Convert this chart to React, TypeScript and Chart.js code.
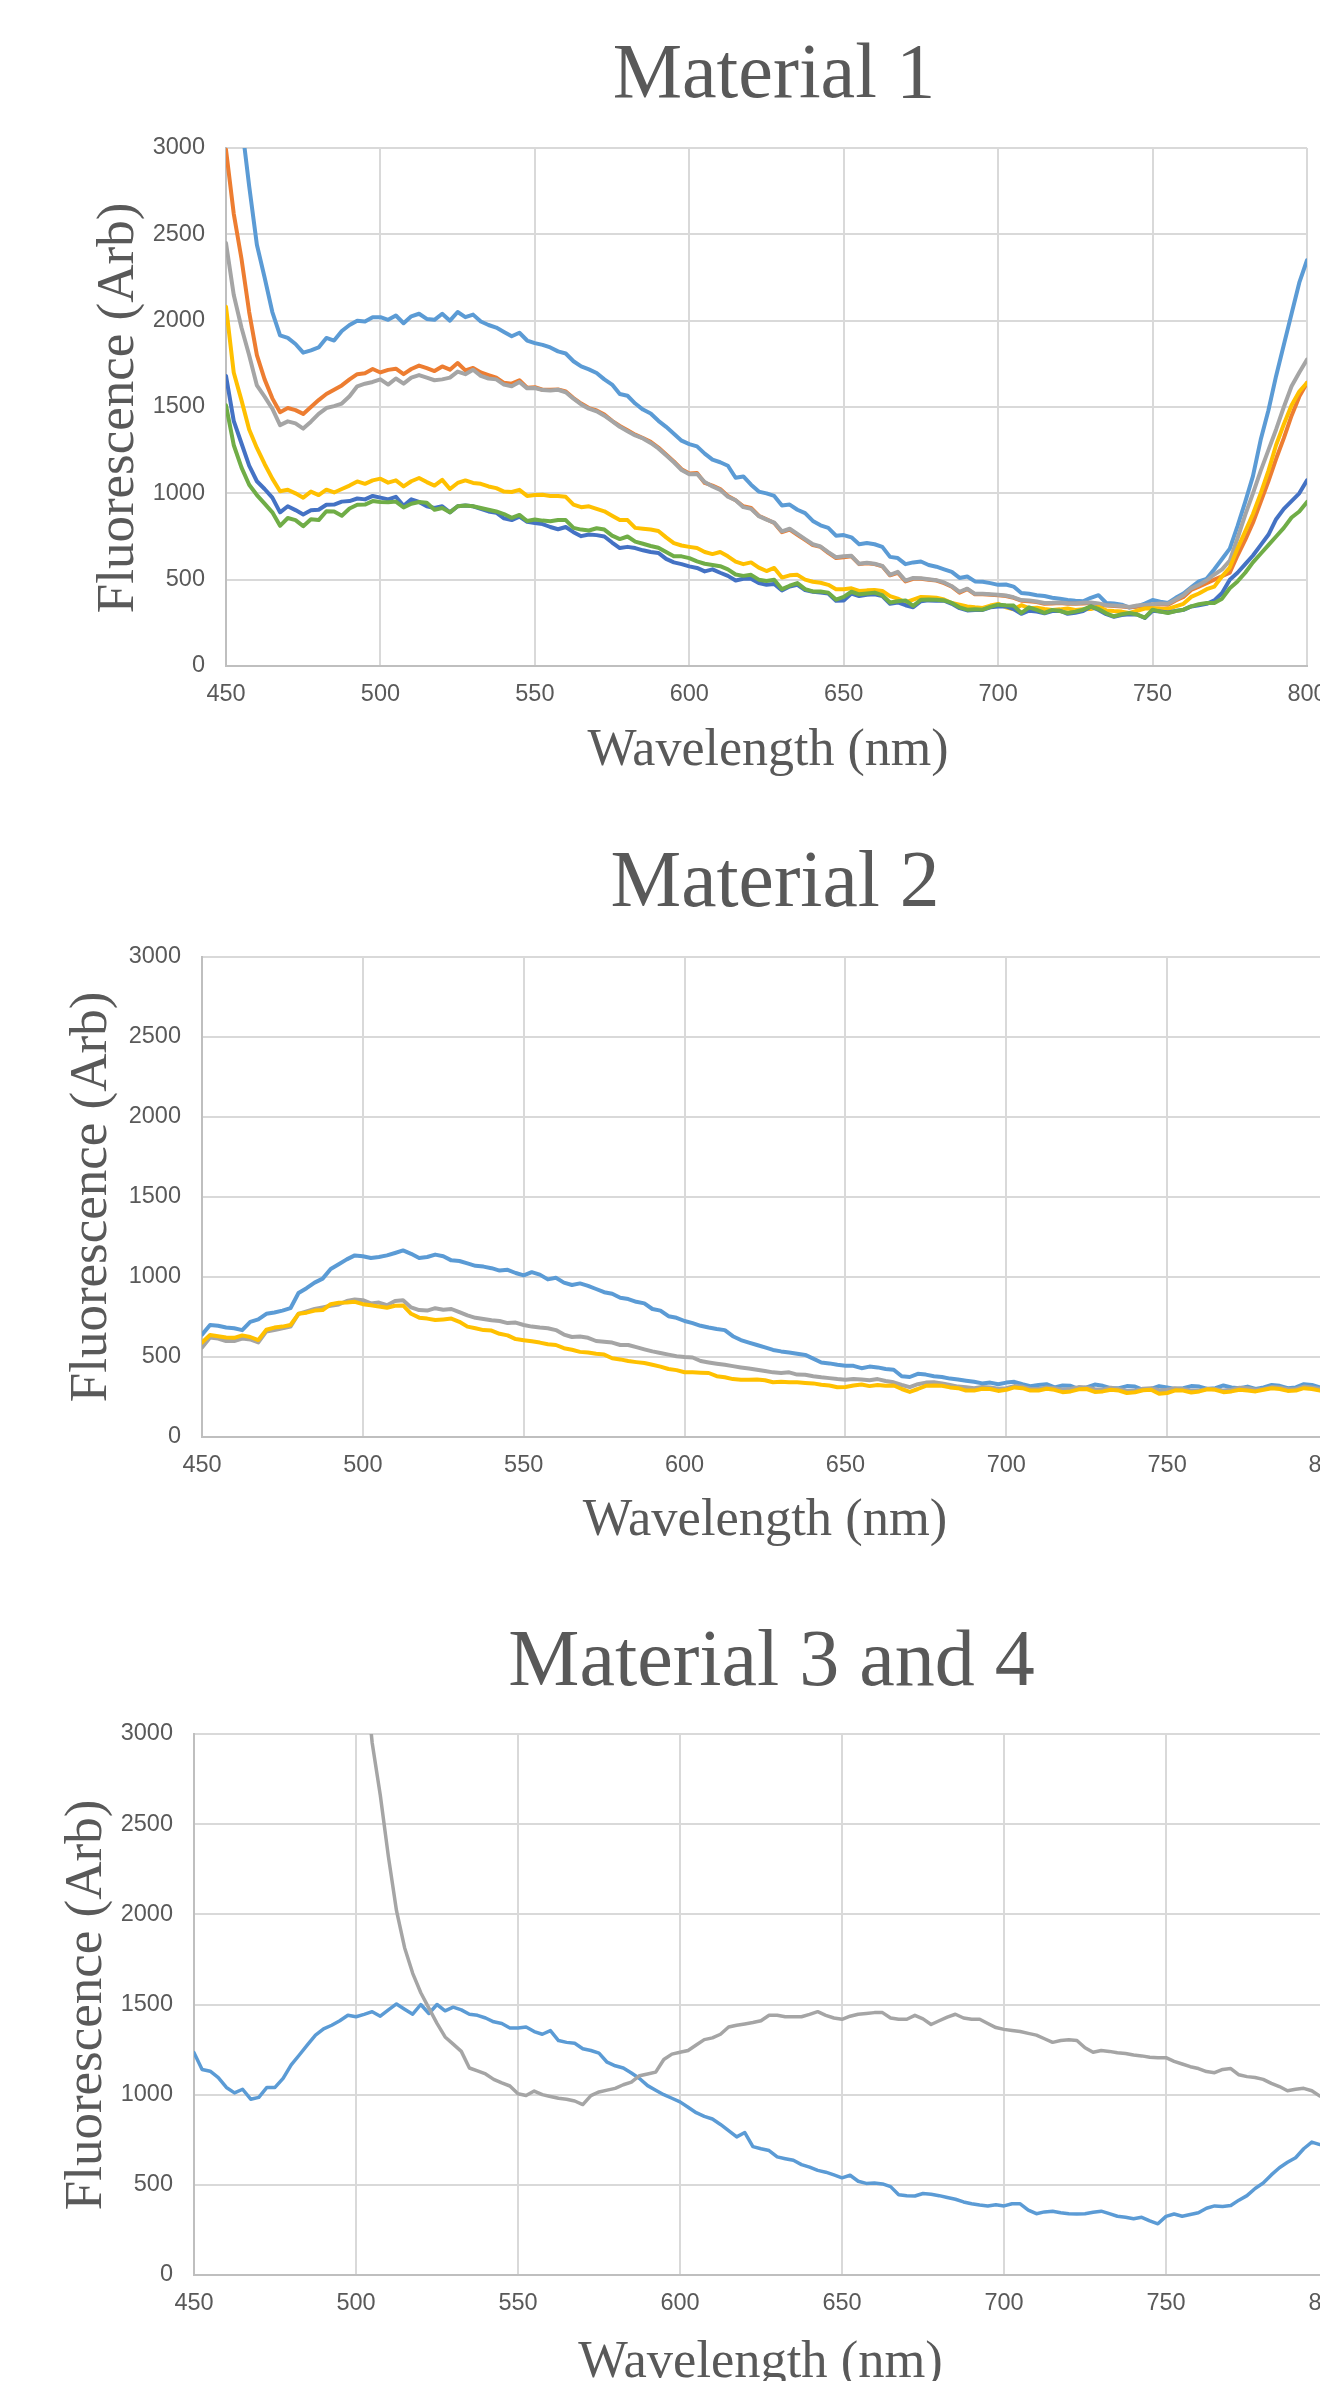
import React, { useEffect, useRef } from 'react';
import { Chart, registerables } from 'chart.js';

Chart.register(...registerables);

// ---------- DATA (wavelength step 2.5 nm) ----------
const WAVELENGTHS = [
  450, 452.5, 455, 457.5, 460, 462.5, 465, 467.5, 470, 472.5,
  475, 477.5, 480, 482.5, 485, 487.5, 490, 492.5, 495, 497.5,
  500, 502.5, 505, 507.5, 510, 512.5, 515, 517.5, 520, 522.5,
  525, 527.5, 530, 532.5, 535, 537.5, 540, 542.5, 545, 547.5,
  550, 552.5, 555, 557.5, 560, 562.5, 565, 567.5, 570, 572.5,
  575, 577.5, 580, 582.5, 585, 587.5, 590, 592.5, 595, 597.5,
  600, 602.5, 605, 607.5, 610, 612.5, 615, 617.5, 620, 622.5,
  625, 627.5, 630, 632.5, 635, 637.5, 640, 642.5, 645, 647.5,
  650, 652.5, 655, 657.5, 660, 662.5, 665, 667.5, 670, 672.5,
  675, 677.5, 680, 682.5, 685, 687.5, 690, 692.5, 695, 697.5,
  700, 702.5, 705, 707.5, 710, 712.5, 715, 717.5, 720, 722.5,
  725, 727.5, 730, 732.5, 735, 737.5, 740, 742.5, 745, 747.5,
  750, 752.5, 755, 757.5, 760, 762.5, 765, 767.5, 770, 772.5,
  775, 777.5, 780, 782.5, 785, 787.5, 790, 792.5, 795, 797.5,
  800,
];

// Material 1
const M1_BLUE = [
  3900, 3500, 3150, 2780, 2440, 2250, 2050, 1915, 1900, 1865,
  1815, 1828, 1845, 1900, 1885, 1940, 1975, 2000, 1995, 2020,
  2020, 2005, 2030, 1985, 2025, 2040, 2010, 2005, 2040, 2000,
  2050, 2020, 2035, 1995, 1975, 1960, 1935, 1910, 1930, 1885,
  1870, 1860, 1845, 1822, 1810, 1765, 1735, 1718, 1697, 1660,
  1630, 1575, 1565, 1520, 1485, 1462, 1420, 1385, 1345, 1305,
  1285, 1272, 1230, 1195, 1180, 1160, 1090, 1098, 1050, 1010,
  1000, 985, 930, 935, 905, 885, 840, 815, 800, 755,
  758, 745, 705, 712, 705, 690, 632, 625, 590, 600,
  605, 585, 575, 560, 545, 510, 518, 490, 488, 480,
  470, 472, 460, 423, 418, 410, 405, 395, 390, 382,
  378, 375, 395, 410, 365, 362, 355, 338, 345, 362,
  382, 372, 365, 395, 420, 455, 490, 505, 560, 620,
  680, 810, 950, 1100, 1310, 1480, 1680, 1860, 2040, 2220,
  2350,
];
const M1_ORANGE = [
  2990, 2620, 2360, 2050, 1800, 1660, 1550, 1470, 1494, 1482,
  1460, 1500, 1540, 1575, 1600, 1625, 1660, 1690, 1695, 1720,
  1700, 1715, 1722, 1690, 1720, 1740, 1725, 1708, 1735, 1716,
  1755, 1712, 1726, 1700, 1685, 1670, 1640, 1635, 1655, 1612,
  1615, 1600, 1600, 1602, 1590, 1552, 1520, 1494, 1480, 1456,
  1420, 1390, 1365, 1340, 1320, 1298, 1265, 1225, 1185, 1140,
  1115, 1118, 1060, 1045, 1025, 985, 960, 925, 915, 870,
  850, 828, 775, 790, 760, 730, 700, 690, 655, 625,
  630, 635, 590, 595, 590, 578, 525, 540, 490, 505,
  505, 500, 495, 480, 460, 425, 445, 415, 415, 412,
  410, 405, 395, 378, 375, 370, 360, 362, 365, 360,
  360, 362, 365, 358, 350, 348, 345, 340, 345, 350,
  355, 358, 355, 380, 400, 440, 460, 480, 500, 520,
  540, 640, 730, 830, 950, 1070, 1200, 1320, 1450, 1560,
  1640,
];
const M1_GRAY = [
  2450, 2150, 1960, 1800, 1625, 1560, 1490, 1395, 1417, 1405,
  1375, 1415, 1460, 1494, 1505, 1520, 1562, 1620, 1635, 1645,
  1660, 1630, 1665, 1635, 1670, 1685, 1670, 1655, 1660, 1670,
  1705, 1690, 1716, 1680, 1665, 1660, 1630, 1620, 1645, 1608,
  1610, 1598, 1595, 1600, 1585, 1548, 1515, 1490, 1475, 1450,
  1418, 1385, 1360, 1335, 1318, 1292, 1260, 1220, 1180, 1135,
  1110, 1112, 1065, 1040, 1020, 980, 960, 920, 910, 868,
  848, 830, 780, 795, 765, 735, 705, 692, 660, 630,
  635, 638, 592, 598, 592, 580, 528, 545, 495, 510,
  508, 503, 497, 484, 462, 430, 448, 418, 418, 415,
  412, 408, 398, 382, 380, 374, 365, 366, 368, 364,
  362, 366, 368, 362, 352, 350, 348, 342, 350, 354,
  358, 362, 360, 385, 410, 450, 470, 495, 530, 560,
  610, 740, 875, 1000, 1130, 1250, 1370, 1500, 1620, 1700,
  1775,
];
const M1_YELLOW = [
  2080, 1700, 1540, 1370, 1263, 1170, 1085, 1012, 1021, 1000,
  975, 1010, 990, 1021, 1005, 1025, 1045, 1069, 1055, 1075,
  1085, 1062, 1075, 1040, 1070, 1089, 1065, 1045, 1078, 1025,
  1060, 1075, 1060, 1055, 1040, 1030, 1010, 1008, 1020, 985,
  990, 992, 985, 985, 980, 935, 920, 925, 910, 896,
  870, 845, 845, 800, 795, 790, 782, 745, 712, 698,
  690, 683, 660, 648, 660, 635, 605, 590, 600, 570,
  550, 568, 512, 525, 528, 500, 488, 482, 470, 445,
  445, 450, 435, 438, 440, 435, 405, 390, 368, 385,
  400, 398, 395, 385, 365, 355, 345, 340, 336, 350,
  360, 340, 328, 352, 335, 338, 330, 325, 328, 333,
  325, 328, 330, 342, 322, 318, 315, 307, 320, 333,
  335, 332, 330, 345, 360, 400, 420, 445, 460, 520,
  570, 680, 780, 880, 1000, 1130, 1280, 1400, 1510, 1590,
  1640,
];
const M1_DARKBLUE = [
  1680, 1420, 1290, 1160, 1070, 1025, 975, 890, 925, 903,
  878, 902, 905, 934, 935, 952, 955, 970, 965, 985,
  975, 965, 980, 928, 965, 950, 925, 915, 925, 890,
  925, 930, 925, 910, 895, 888, 855, 845, 865, 835,
  828, 822, 805, 792, 805, 775, 752, 762, 758, 750,
  715, 683, 690, 683, 670, 660, 655, 620, 600, 590,
  577, 568, 548, 560, 540, 522, 495, 505, 505, 480,
  471, 475, 438, 460, 470, 440, 430, 425, 420, 378,
  380, 420, 405, 412, 415, 405, 360, 368, 352, 340,
  375, 380, 378, 378, 360, 335, 322, 325, 325, 340,
  345, 345, 330, 302, 320, 315, 305, 318, 320, 302,
  308, 318, 345, 325, 300, 285, 295, 300, 298, 278,
  320, 315, 310, 318, 325, 345, 352, 360, 380, 423,
  500, 540, 590, 640, 700, 760, 850, 910, 955, 1000,
  1075,
];
const M1_GREEN = [
  1510, 1280, 1150, 1050, 990, 940, 890, 812, 857, 845,
  810, 850, 845, 896, 895, 870, 912, 934, 935, 955,
  950, 948, 952, 918, 940, 950, 945, 905, 915, 890,
  925, 930, 925, 915, 905, 895, 880, 858, 875, 840,
  848, 842, 838, 845, 845, 800, 790, 785, 798, 790,
  755, 735, 750, 720, 708, 695, 685, 660, 635, 635,
  625, 606, 592, 585, 578, 560, 530, 522, 528, 500,
  492, 500, 445, 465, 480, 445, 432, 432, 425, 385,
  400, 430, 415, 420, 425, 410, 368, 375, 380, 348,
  384, 385, 384, 380, 365, 340, 326, 328, 326, 342,
  355, 352, 350, 307, 340, 325, 308, 325, 318, 307,
  315, 326, 345, 330, 305, 288, 300, 307, 298, 280,
  326, 315, 307, 318, 326, 345, 358, 365, 365, 390,
  450, 490, 540, 600, 650, 700, 750, 800, 860, 895,
  950,
];

// Material 2
const M2_BLUE = [
  640, 700, 695, 684, 680, 668, 720, 735, 770, 778,
  790, 805, 900, 930, 965, 990, 1050, 1080, 1110, 1135,
  1130, 1119, 1125, 1135, 1150, 1166, 1145, 1119, 1125, 1140,
  1130, 1104, 1100, 1085, 1070, 1065, 1055, 1040, 1045, 1025,
  1010, 1030, 1015, 985, 995, 965, 950, 960, 945, 925,
  905, 895, 870, 862, 845, 835, 800, 790, 755, 745,
  725, 712, 695, 684, 675, 668, 630, 606, 590, 575,
  560, 544, 535, 528, 520, 513, 490, 466, 460, 451,
  445, 445, 430, 440, 435, 425, 420, 380, 375, 395,
  390, 380, 375, 365, 360, 352, 345, 335, 340, 330,
  340, 345, 330, 318, 325, 330, 310, 322, 320, 300,
  310, 328, 320, 305, 305, 318, 315, 295, 300, 318,
  310, 300, 305, 318, 315, 300, 305, 322, 310, 305,
  315, 300, 310, 325, 320, 305, 310, 330, 325, 310,
  305,
];
const M2_GRAY = [
  560, 622, 615, 600, 600, 615, 610, 591, 660, 668,
  680, 690, 770, 785, 800, 810, 820, 828, 850, 860,
  855, 835, 840, 824, 850, 855, 810, 793, 790, 805,
  795, 800, 780, 760, 745, 738, 730, 725, 712, 715,
  700, 690, 684, 680, 668, 640, 625, 628, 620, 600,
  595, 590, 575, 575, 562, 548, 535, 525, 515, 505,
  500, 497, 475, 466, 458, 451, 443, 435, 428, 420,
  412, 404, 400, 404, 390, 389, 380, 373, 368, 362,
  358, 362, 360, 355, 362, 350, 342, 325, 312, 330,
  340, 342, 335, 325, 315, 311, 305, 312, 310, 302,
  305, 318, 315, 300, 300, 310, 305, 295, 300, 312,
  310, 298, 295, 308, 300, 288, 290, 302, 305, 292,
  295, 305, 300, 290, 290, 302, 300, 290, 295, 308,
  305, 295, 300, 312, 310, 298, 300, 315, 310, 300,
  295,
];
const M2_YELLOW = [
  590, 637, 630, 622, 620, 635, 625, 606, 670, 684,
  690, 700, 770, 777, 790, 793, 830, 839, 840, 845,
  830, 824, 815, 808, 820, 822, 770, 746, 740, 731,
  735, 740, 720, 690, 680, 668, 665, 645, 635, 612,
  605, 598, 590, 580, 575, 555, 545, 532, 528, 520,
  515, 492, 485, 475, 468, 462, 452, 440, 425, 418,
  405, 404, 402, 400, 380, 373, 362, 358, 358, 360,
  355, 342, 345, 342, 342, 338, 335, 326, 322, 311,
  312, 322, 328, 318, 325, 320, 322, 300, 282, 300,
  320, 322, 320, 310, 305, 290, 290, 302, 300, 288,
  295, 310, 305, 290, 290, 302, 295, 280, 285, 298,
  300, 282, 285, 295, 290, 275, 280, 292, 295, 270,
  275, 292, 290, 278, 285, 298, 295, 280, 285, 295,
  290, 285, 295, 305, 300, 288, 290, 305, 300, 290,
  285,
];

// Material 3 and 4
const M3_BLUE = [
  1233, 1140, 1130, 1095, 1040, 1010, 1030, 975, 985, 1040,
  1040, 1090, 1165, 1220, 1276, 1330, 1365, 1385, 1410, 1440,
  1432, 1445, 1460, 1435, 1470, 1503, 1474, 1446, 1500, 1450,
  1500, 1465, 1485, 1470, 1446, 1440, 1425, 1404, 1395, 1370,
  1370, 1375, 1350, 1335, 1355, 1300, 1290, 1285, 1255, 1245,
  1230, 1180, 1160, 1148, 1120, 1090, 1050, 1025, 1000, 980,
  960, 930, 900, 880, 865, 835, 800, 766, 790, 712,
  700, 690, 655, 645, 636, 612, 598, 580, 570, 555,
  539, 553, 520, 508, 510, 505, 490, 445, 440, 438,
  452, 448, 440, 430, 420, 405, 395, 388, 383, 390,
  383, 395, 395, 360, 340, 350, 354, 345, 340, 338,
  340, 348, 354, 340, 326, 320, 312, 320, 300, 284,
  325, 338, 326, 335, 345, 370, 383, 380, 385, 415,
  440, 480, 510, 555, 595, 625, 650, 700, 737, 723,
  720,
];
const M4_GRAY = [
  null, null, null, null, null, null, null, null, null, null,
  null, null, null, null, null, null, null, null, null, null,
  null, 3400, 2950, 2660, 2320, 2020, 1815, 1673, 1565, 1480,
  1395, 1320, 1280, 1240, 1148, 1132, 1115, 1085, 1065, 1048,
  1005, 995, 1020, 1000, 990, 980, 975, 965, 945, 995,
  1015, 1025, 1035, 1055, 1070, 1105, 1115, 1125, 1195, 1225,
  1235, 1245, 1275, 1305, 1315, 1335, 1375, 1385, 1392, 1400,
  1410, 1440, 1440, 1432, 1432, 1432, 1445, 1460, 1440, 1425,
  1418, 1435, 1446, 1450, 1455, 1455, 1425, 1418, 1418, 1440,
  1420, 1389, 1410, 1430, 1446, 1425, 1418, 1418, 1395, 1372,
  1362, 1356, 1350, 1340, 1330, 1310, 1290, 1300, 1304, 1300,
  1260, 1235, 1245, 1240, 1232, 1228, 1220, 1215, 1208, 1205,
  1205, 1185, 1170, 1155, 1145, 1128, 1122, 1140, 1145, 1110,
  1100, 1095, 1085, 1063, 1045, 1022, 1030, 1035, 1022, 992,
  990,
];

const C_BLUE = '#5B9BD5';
const C_ORANGE = '#ED7D31';
const C_GRAY = '#A5A5A5';
const C_YELLOW = '#FFC000';
const C_DARKBLUE = '#4472C4';
const C_GREEN = '#70AD47';

const TEXT_COLOR = '#595959';
const SERIF = '"Liberation Serif", "Times New Roman", serif';
const SANS = '"Liberation Sans", Arial, sans-serif';

type TextItem = { text: string; x: number; y: number; size: number; rotate?: boolean };
type Series = { data: (number | null)[]; color: string };
type Panel = {
  top: number;
  width: number;
  height: number;
  plotLeft: number;
  plotRight: number;
  plotTop: number;
  plotBottom: number;
  lineWidth: number;
  series: Series[];
  texts: TextItem[];
};

const PANELS: Panel[] = [
  {
    top: 0, width: 1320, height: 800,
    plotLeft: 226, plotRight: 1307, plotTop: 148, plotBottom: 666,
    lineWidth: 4,
    series: [
      { data: M1_BLUE, color: C_BLUE },
      { data: M1_ORANGE, color: C_ORANGE },
      { data: M1_GRAY, color: C_GRAY },
      { data: M1_YELLOW, color: C_YELLOW },
      { data: M1_DARKBLUE, color: C_DARKBLUE },
      { data: M1_GREEN, color: C_GREEN },
    ],
    texts: [
      { text: 'Material 1', x: 774, y: 96.7, size: 78 },
      { text: 'Wavelength (nm)', x: 768, y: 765, size: 52 },
      { text: 'Fluorescence (Arb)', x: 132.5, y: 408, size: 53, rotate: true },
    ],
  },
  {
    top: 800, width: 1360, height: 780,
    plotLeft: 202, plotRight: 1328, plotTop: 157, plotBottom: 637,
    lineWidth: 4,
    series: [
      { data: M2_BLUE, color: C_BLUE },
      { data: M2_GRAY, color: C_GRAY },
      { data: M2_YELLOW, color: C_YELLOW },
    ],
    texts: [
      { text: 'Material 2', x: 775, y: 105.5, size: 79.5 },
      { text: 'Wavelength (nm)', x: 765, y: 735, size: 52.5 },
      { text: 'Fluorescence (Arb)', x: 106, y: 397, size: 53, rotate: true },
    ],
  },
  {
    top: 1580, width: 1360, height: 840,
    plotLeft: 194, plotRight: 1328, plotTop: 154, plotBottom: 695,
    lineWidth: 3.5,
    series: [
      { data: M3_BLUE, color: C_BLUE },
      { data: M4_GRAY, color: C_GRAY },
    ],
    texts: [
      { text: 'Material 3 and 4', x: 771.6, y: 104.7, size: 80 },
      { text: 'Wavelength (nm)', x: 760.5, y: 797, size: 52.5 },
      { text: 'Fluorescence (Arb)', x: 100.7, y: 425, size: 53, rotate: true },
    ],
  },
];

function textPlugin(items: TextItem[]) {
  return {
    id: 'fixedTexts',
    afterDraw(chart: any) {
      const ctx: CanvasRenderingContext2D = chart.ctx;
      items.forEach((t) => {
        ctx.save();
        ctx.fillStyle = TEXT_COLOR;
        ctx.font = `${t.size}px ${SERIF}`;
        ctx.textAlign = 'center';
        ctx.textBaseline = 'alphabetic';
        ctx.translate(t.x, t.y);
        if (t.rotate) ctx.rotate(-Math.PI / 2);
        ctx.fillText(t.text, 0, 0);
        ctx.restore();
      });
    },
  };
}

function clearScalePadding(s: any) {
  s.paddingLeft = 0;
  s.paddingRight = 0;
  s.paddingTop = 0;
  s.paddingBottom = 0;
}

function PanelChart({ panel }: { panel: Panel }) {
  const ref = useRef<HTMLCanvasElement | null>(null);
  useEffect(() => {
    if (!ref.current) return;
    const tickFont = { family: SANS, size: 23.5, lineHeight: 1 };
    const n = panel.series.length;
    const chart = new Chart(ref.current, {
      type: 'line',
      data: {
        datasets: panel.series.map((s, i) => ({
          data: WAVELENGTHS.map((x, j) => ({ x, y: s.data[j] })),
          borderColor: s.color,
          backgroundColor: s.color,
          borderWidth: panel.lineWidth,
          pointRadius: 0,
          fill: false,
          tension: 0,
          borderJoinStyle: 'round' as const,
          borderCapStyle: 'round' as const,
          spanGaps: false,
          order: n - i,
        })),
      },
      options: {
        animation: false,
        responsive: false,
        events: [],
        layout: {
          autoPadding: false,
          padding: { left: 0, top: panel.plotTop, right: panel.width - panel.plotRight, bottom: 0 },
        },
        plugins: {
          legend: { display: false },
          tooltip: { enabled: false },
          title: { display: false },
        },
        scales: {
          x: {
            type: 'linear',
            min: 450,
            max: 800,
            ticks: {
              stepSize: 50,
              font: tickFont,
              color: TEXT_COLOR,
              padding: 17.25,
              maxRotation: 0,
              autoSkip: false,
              callback: (v: any) => String(v),
            },
            grid: { color: '#D9D9D9', lineWidth: 2, drawTicks: false },
            border: { color: '#BFBFBF', width: 2 },
            afterFit: (s: any) => {
              s.height = panel.height - panel.plotBottom;
              clearScalePadding(s);
            },
          },
          y: {
            type: 'linear',
            min: 0,
            max: 3000,
            ticks: {
              stepSize: 500,
              font: tickFont,
              color: TEXT_COLOR,
              padding: 21,
              callback: (v: any) => String(v),
            },
            grid: { color: '#D9D9D9', lineWidth: 2, drawTicks: false },
            border: { color: '#BFBFBF', width: 2 },
            afterFit: (s: any) => {
              s.width = panel.plotLeft;
              clearScalePadding(s);
            },
          },
        },
      } as any,
      plugins: [textPlugin(panel.texts)],
    });
    let alive = true;
    if ((document as any).fonts && (document as any).fonts.ready) {
      (document as any).fonts.ready.then(() => {
        if (alive) chart.update();
      });
    }
    return () => {
      alive = false;
      chart.destroy();
    };
  }, [panel]);
  return (
    <canvas
      ref={ref}
      width={panel.width}
      height={panel.height}
      style={{ position: 'absolute', left: 0, top: panel.top, width: panel.width, height: panel.height }}
    />
  );
}

export default function App() {
  return (
    <div
      style={{
        position: 'absolute',
        left: 0,
        top: 0,
        width: 1320,
        height: 2381,
        overflow: 'hidden',
        background: '#ffffff',
      }}
    >
      {PANELS.map((p, i) => (
        <PanelChart key={i} panel={p} />
      ))}
    </div>
  );
}
